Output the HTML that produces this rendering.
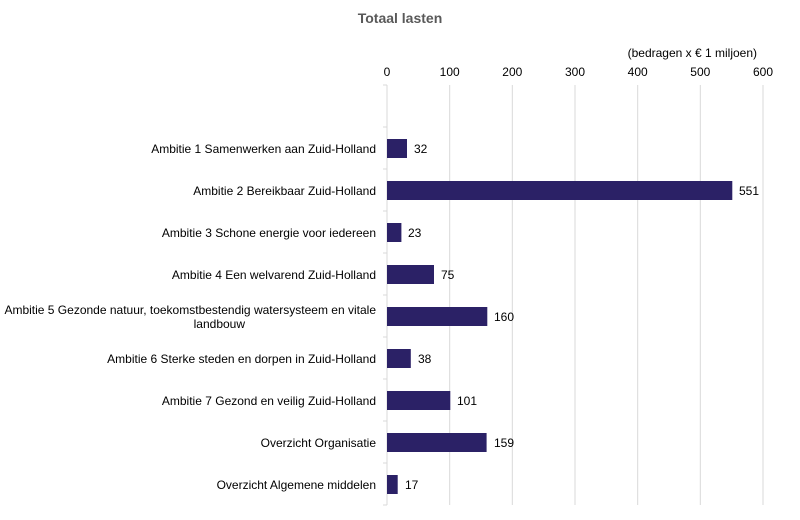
<!DOCTYPE html>
<html><head><meta charset="utf-8"><style>
body{margin:0;background:#fff;}
svg{display:block;font-family:"Liberation Sans",Arial,sans-serif;}
</style></head><body>
<svg width="800" height="520" xmlns="http://www.w3.org/2000/svg">
<text x="400" y="23" text-anchor="middle" font-size="14" font-weight="bold" fill="#595959">Totaal lasten</text>
<text x="757" y="57" text-anchor="end" font-size="12" fill="#000">(bedragen  x € 1 miljoen)</text>
<g font-size="12" fill="#000" text-anchor="middle">
<text x="387" y="76">0</text><text x="449.7" y="76">100</text><text x="512.3" y="76">200</text><text x="575" y="76">300</text><text x="637.7" y="76">400</text><text x="700.3" y="76">500</text><text x="763" y="76">600</text>
</g>
<g stroke="#d9d9d9" stroke-width="1">
<line x1="449.7" y1="85" x2="449.7" y2="505"/><line x1="512.3" y1="85" x2="512.3" y2="505"/><line x1="575" y1="85" x2="575" y2="505"/><line x1="637.7" y1="85" x2="637.7" y2="505"/><line x1="700.3" y1="85" x2="700.3" y2="505"/><line x1="763" y1="85" x2="763" y2="505"/>
<line x1="387" y1="85" x2="387" y2="505"/>
<line x1="383" y1="85" x2="387" y2="85"/><line x1="383" y1="127" x2="387" y2="127"/><line x1="383" y1="169" x2="387" y2="169"/><line x1="383" y1="211" x2="387" y2="211"/><line x1="383" y1="253" x2="387" y2="253"/><line x1="383" y1="295" x2="387" y2="295"/><line x1="383" y1="337" x2="387" y2="337"/><line x1="383" y1="379" x2="387" y2="379"/><line x1="383" y1="421" x2="387" y2="421"/><line x1="383" y1="463" x2="387" y2="463"/><line x1="383" y1="505" x2="387" y2="505"/>
</g>
<g fill="#2b2166">
<rect x="387" y="139" width="20" height="19"/>
<rect x="387" y="181" width="345.3" height="19"/>
<rect x="387" y="223" width="14.4" height="19"/>
<rect x="387" y="265" width="47" height="19"/>
<rect x="387" y="307" width="100.3" height="19"/>
<rect x="387" y="349" width="23.8" height="19"/>
<rect x="387" y="391" width="63.3" height="19"/>
<rect x="387" y="433" width="99.6" height="19"/>
<rect x="387" y="475" width="10.7" height="19"/>
</g>
<g font-size="12" fill="#000">
<text x="414" y="153">32</text>
<text x="739" y="195">551</text>
<text x="408" y="237">23</text>
<text x="441" y="279">75</text>
<text x="494" y="321">160</text>
<text x="418" y="363">38</text>
<text x="457" y="405">101</text>
<text x="494" y="447">159</text>
<text x="405" y="489">17</text>
</g>
<g font-size="12" fill="#000" text-anchor="end">
<text x="376" y="153">Ambitie 1 Samenwerken aan Zuid-Holland</text>
<text x="376" y="195">Ambitie 2 Bereikbaar Zuid-Holland</text>
<text x="376" y="237">Ambitie 3 Schone energie voor iedereen</text>
<text x="376" y="279">Ambitie 4 Een welvarend Zuid-Holland</text>
<text x="376" y="314">Ambitie 5 Gezonde natuur, toekomstbestendig watersysteem en vitale</text>
<text x="245" y="328">landbouw</text>
<text x="376" y="363">Ambitie 6 Sterke steden en dorpen in Zuid-Holland</text>
<text x="376" y="405">Ambitie 7 Gezond en veilig Zuid-Holland</text>
<text x="376" y="447">Overzicht Organisatie</text>
<text x="376" y="489">Overzicht Algemene middelen</text>
</g>
</svg>
</body></html>
